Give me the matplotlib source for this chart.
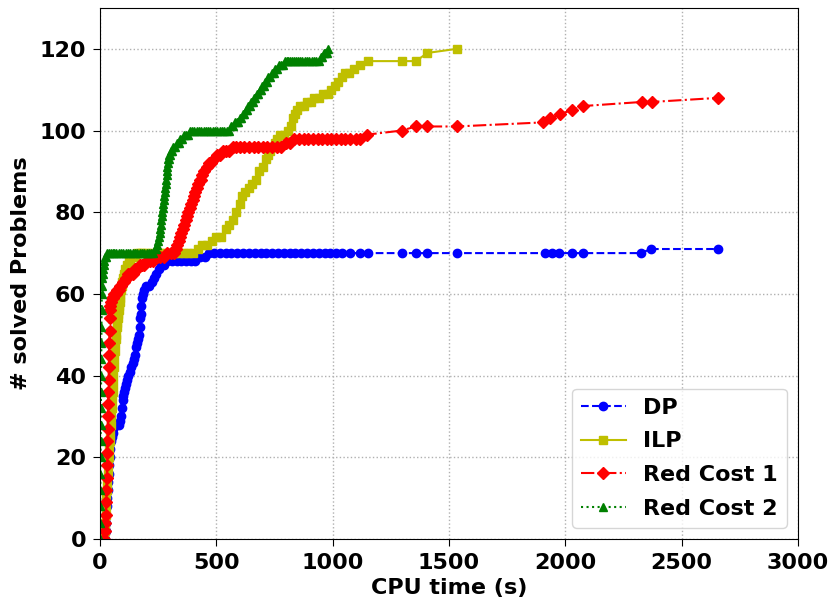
import matplotlib
matplotlib.use("Agg")
import matplotlib.pyplot as plt

# solve times (s) and cumulative number of solved problems
dp_t = [22, 24, 26, 28, 30, 32, 34, 36, 38, 40, 42, 45, 48, 51, 54, 57, 62, 70, 80,
        88, 92, 95, 98, 101, 105, 109, 113, 118, 122, 128, 135, 142, 148, 152, 156,
        160, 164, 167, 170, 173, 175, 177, 179, 183, 190, 198, 210, 222, 232, 242,
        252, 262, 275, 290, 310, 330, 350, 370, 390, 410, 430, 450, 470, 490, 515,
        540, 565, 590, 615, 640, 665, 690, 715, 740, 765, 790, 815, 840, 865, 890,
        915, 940, 965, 990, 1015, 1040, 1075, 1117, 1152, 1296, 1358, 1407, 1533,
        1912, 1941, 1974, 2027, 2077, 2324, 2368, 2657]
dp_n = [0, 2, 4, 6, 8, 10, 12, 14, 16, 18, 20, 22, 24, 25, 26, 27, 28, 28, 28,
        29, 30, 32, 34, 35, 36, 37, 38, 39, 40, 41, 42, 43, 44, 45, 47,
        48, 49, 50, 52, 54, 55, 57, 59, 60, 61, 62, 62, 63, 64, 65,
        66, 67, 67, 68, 68, 68, 68, 68, 68, 68, 69, 69, 70, 70, 70,
        70, 70, 70, 70, 70, 70, 70, 70, 70, 70, 70, 70, 70, 70, 70,
        70, 70, 70, 70, 70, 70, 70, 70, 70, 70, 70, 70, 70,
        70, 70, 70, 70, 70, 70, 71, 71]

ilp_t = [18, 20, 22, 24, 26, 28, 30, 32, 34, 36, 38, 40, 42, 44, 46, 48, 50, 52,
         54, 56, 58, 60, 62, 64, 66, 68, 70, 72, 74, 76, 78, 80, 82, 84, 86, 88,
         90, 93, 96, 100, 104, 108, 112, 116, 120, 125, 130, 140, 150, 160, 170,
         180, 200, 220, 240, 260, 280, 300, 320, 340, 360, 380, 400, 420, 440, 460,
         480, 500, 520, 540, 555, 570, 585, 600, 612, 625, 640, 655, 670, 685, 700,
         712, 722, 732, 742, 752, 762, 775, 790, 810, 822, 830, 838, 848, 860, 875,
         890, 905, 920, 940, 960, 980, 995, 1010, 1025, 1040, 1055, 1070, 1090,
         1117, 1152, 1296, 1358, 1407, 1533]
ilp_n = [0, 2, 4, 6, 8, 10, 12, 14, 16, 18, 20, 22, 24, 26, 28, 30, 32, 34,
         36, 38, 40, 42, 44, 46, 48, 49, 50, 52, 53, 54, 55, 56, 57, 58, 59, 60,
         61, 62, 63, 64, 65, 66, 66, 67, 67, 68, 68, 69, 69, 70, 70,
         70, 70, 70, 70, 70, 70, 70, 70, 70, 70, 70, 70, 71, 72, 72,
         73, 74, 74, 76, 77, 78, 80, 82, 84, 85, 86, 87, 88, 90, 91,
         93, 94, 95, 96, 97, 98, 99, 99, 100, 101, 103, 104, 105, 106, 106,
         107, 107, 108, 108, 109, 109, 110, 111, 112, 113, 114, 114, 115,
         116, 117, 117, 117, 119, 120]

rc1_t = [18, 20, 22, 24, 26, 28, 29, 30, 31, 32, 33, 34, 35, 36, 37, 38, 39, 40,
         41, 42, 43, 45, 48, 52, 57, 62, 68, 74, 80, 86, 92, 98, 104, 110, 116, 122,
         130, 140, 150, 160, 170, 180, 190, 200, 215, 230, 245, 260, 275, 290, 305,
         318, 326, 332, 338, 344, 350, 356, 362, 368, 374, 380, 386, 392, 398, 404,
         410, 416, 422, 428, 434, 440, 448, 458, 468, 478, 490, 502, 515, 528, 540,
         555, 570, 585, 600, 620, 640, 660, 680, 700, 720, 740, 760, 780, 798, 815,
         835, 855, 875, 895, 915, 935, 955, 975, 995, 1015, 1035, 1055, 1075, 1100,
         1117, 1148, 1296, 1358, 1404, 1533, 1904, 1934, 1977, 2027, 2076, 2328,
         2371, 2656]
rc1_n = [0, 2, 4, 6, 9, 12, 15, 18, 21, 24, 27, 30, 33, 36, 39, 42, 45, 48,
         51, 54, 56, 57, 58, 59, 59, 60, 60, 61, 61, 62, 62, 63, 63, 64, 64, 65,
         65, 65, 66, 66, 67, 67, 67, 68, 68, 68, 69, 69, 69, 70, 70,
         70, 71, 72, 73, 74, 75, 76, 77, 78, 79, 80, 81, 82, 83, 84,
         85, 86, 87, 88, 88, 89, 90, 91, 92, 92, 93, 94, 94, 95, 95,
         95, 96, 96, 96, 96, 96, 96, 96, 96, 96, 96, 96, 96, 97, 97,
         98, 98, 98, 98, 98, 98, 98, 98, 98, 98, 98, 98, 98, 98,
         98, 99, 100, 101, 101, 101, 102, 103, 104, 105, 106, 107,
         107, 108]

rc2_t = [0, 0.5, 1, 1.5, 2, 2.5, 3, 3.5, 4, 4.5, 5, 5.5, 6, 6.5, 7, 8, 9, 10, 12,
         14, 16, 19, 22, 26, 30, 38, 46, 54, 62, 70, 80, 90, 100, 110, 120, 130,
         140, 150, 160, 170, 180, 190, 200, 210, 220, 228, 236, 242, 247, 251, 254,
         257, 260, 262, 264, 266, 268, 270, 272, 274, 276, 278, 280, 282, 284, 286,
         288, 290, 292, 294, 296, 298, 300, 304, 310, 316, 322, 330, 338, 346, 354,
         362, 370, 378, 386, 395, 405, 415, 425, 435, 445, 455, 465, 475, 485, 495,
         505, 515, 525, 535, 545, 555, 563, 571, 579, 587, 595, 602, 608, 614, 620,
         626, 632, 638, 644, 650, 656, 662, 668, 674, 680, 686, 692, 698, 704, 710,
         716, 722, 730, 738, 746, 754, 762, 770, 778, 786, 794, 802, 810, 818, 826,
         834, 842, 850, 860, 870, 880, 890, 900, 910, 920, 930, 940, 948, 955, 962,
         968, 974, 980]
rc2_n = [0, 4, 8, 12, 16, 20, 24, 28, 32, 36, 40, 44, 48, 52, 56, 60, 62, 64, 65,
         66, 67, 68, 69, 69, 70, 70, 70, 70, 70, 70, 70, 70, 70, 70, 70, 70,
         70, 70, 70, 70, 70, 70, 70, 70, 70, 70, 71, 71, 72, 73, 74,
         75, 76, 77, 78, 79, 80, 81, 82, 83, 84, 85, 86, 87, 88, 89,
         90, 91, 92, 93, 93, 94, 94, 95, 95, 96, 96, 97, 97, 98, 98,
         99, 99, 99, 100, 100, 100, 100, 100, 100, 100, 100, 100, 100, 100, 100,
         100, 100, 100, 100, 100, 100, 101, 101, 102, 102, 102, 103, 103, 104, 104,
         105, 105, 106, 106, 107, 107, 108, 108, 109, 109, 110, 110, 111, 111, 112,
         112, 113, 113, 114, 114, 115, 115, 116, 116, 116, 117, 117, 117, 117, 117,
         117, 117, 117, 117, 117, 117, 117, 117, 117, 117, 117, 117, 118, 118, 119,
         119, 119, 120]

plt.rcParams["font.family"] = "DejaVu Sans"
plt.rcParams["font.weight"] = "bold"
plt.rcParams["font.size"] = 16

fig = plt.figure(figsize=(8.31, 6.03), dpi=100)
ax = fig.add_axes([0.1203, 0.1061, 0.84, 0.8806])

ax.plot(dp_t, dp_n, "b--", marker="o", ms=6, lw=1.5, label="DP")
ax.plot(ilp_t, ilp_n, "y-", marker="s", ms=6, lw=1.5, label="ILP")
ax.plot(rc1_t, rc1_n, "r-.", marker="D", ms=6, lw=1.5, label="Red Cost 1")
ax.plot(rc2_t, rc2_n, "g:", marker="^", ms=6, lw=1.5, label="Red Cost 2")

ax.set_xlim(0, 3000)
ax.set_ylim(0, 130)
ax.set_xticks([0, 500, 1000, 1500, 2000, 2500, 3000])
ax.set_yticks([0, 20, 40, 60, 80, 100, 120])
ax.tick_params(length=5, pad=5)
ax.grid(True, linestyle=":", color="#b0b0b0", lw=1)
ax.set_axisbelow(True)

ax.set_xlabel("CPU time (s)", fontweight="bold", labelpad=4)
ax.set_ylabel("# solved Problems", fontweight="bold", labelpad=6)
for lab in ax.get_xticklabels() + ax.get_yticklabels():
    lab.set_fontweight("bold")

ax.legend(loc="lower right", fontsize=16, labelspacing=0.62)

fig.savefig("out.png", dpi=100)
